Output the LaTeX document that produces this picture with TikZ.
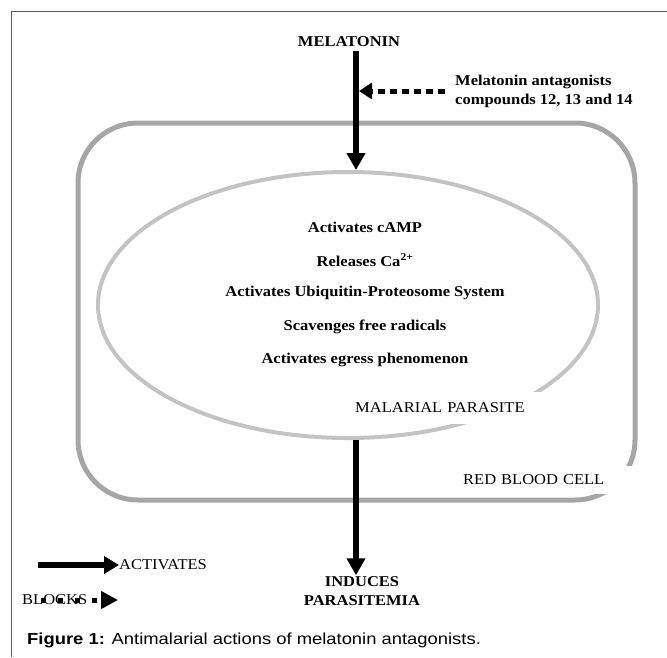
\documentclass[tikz,border=0pt]{standalone}
\usepackage{fontspec}
\setmainfont{Liberation Serif}[FakeStretch=1.1]
\newfontfamily\capfont{Liberation Sans}[FakeStretch=1.15]
\usetikzlibrary{arrows.meta, shapes.geometric}

\definecolor{framecol}{RGB}{104,72,160}
\definecolor{rbccol}{RGB}{166,166,166}
\definecolor{parcol}{RGB}{195,195,195}

\tikzset{
    actarrow/.style={line width=6pt, -{Triangle[length=17pt, width=18pt]}},
    blockarrow/.style={line width=5pt, dash pattern=on 7pt off 5pt, -{Triangle[length=13pt, width=16pt]}},
    legarrow/.style={line width=6pt, -{Triangle[length=15pt, width=17pt]}},
    boldtext/.style={font=\fontsize{15}{19}\selectfont\bfseries, inner sep=0pt},
    plaintext/.style={font=\fontsize{15}{19}\selectfont, inner sep=0pt},
    celllabel/.style={font=\fontsize{15}{19}\selectfont, fill=white, align=left}
}

\begin{document}
\begin{tikzpicture}[x=1pt, y=-1pt]
    \useasboundingbox (0,0) rectangle (667,657);
    \draw[framecol, line width=1pt] (11,657) -- (11,11) -- (667,11);

    \node[draw=rbccol, line width=5pt, rounded corners=60pt, minimum width=557pt, minimum height=377pt] (rbc) at (356.5,311.5) {};
    \node[ellipse, draw=parcol, line width=4pt, minimum width=500pt, minimum height=266pt] (parasite) at (348,305) {};

    \coordinate (axis) at (356,0);
    \node[boldtext] (melatonin) at (349,42) {MELATONIN};
    \node[boldtext, anchor=west, align=left] (antagonist) at (455,91) {Melatonin antagonists\\compounds 12, 13 and 14};

    \node[boldtext] (camp) at (365,227) {Activates cAMP};
    \node[boldtext] (calcium) at (365,260) {Releases Ca\textsuperscript{2+}};
    \node[boldtext] (ubiquitin) at (365,293) {Activates Ubiquitin-Proteosome System};
    \node[boldtext] (radicals) at (365,327) {Scavenges free radicals};
    \node[boldtext] (egress) at (365,360) {Activates egress phenomenon};

    \node[celllabel, anchor=west, inner xsep=15pt, text width=180pt, minimum height=32pt] (parlabel) at (340,408) {MALARIAL PARASITE};
    \node[celllabel, anchor=west, inner xsep=3pt, text width=180pt, minimum height=28pt] (rbclabel) at (460,480) {RED BLOOD CELL};

    \node[boldtext, align=center, inner sep=1pt] (induces) at (362,591) {INDUCES\\PARASITEMIA};

    \draw[actarrow] (axis |- melatonin.south) ++(0,4) -- (axis |- parasite.north);
    \draw[blockarrow, shorten <=10pt, shorten >=3pt] (antagonist.west) -- (axis |- antagonist.west);
    \draw[actarrow] (axis |- parasite.south) -- (axis |- induces.north);

    % legend
    \node[plaintext, anchor=west] (activates) at (119,565) {ACTIVATES};
    \coordinate (actstart) at (38,565);
    \draw[legarrow] (actstart) -- (activates.west);
    \node[plaintext, anchor=west] (blocks) at (22,600) {BLOCKS};
    \coordinate (blkend) at (118,600);
    \draw[line width=5pt, dash pattern=on 5pt off 12pt, -{Triangle[length=17pt, width=17pt]}] ([xshift=19pt]blocks.west) -- (blkend);

    \node[font=\capfont\fontsize{16}{19}\selectfont, anchor=west, inner sep=0pt] (caption) at (27,640) {\textbf{Figure 1:} Antimalarial actions of melatonin antagonists.};
\end{tikzpicture}
\end{document}
